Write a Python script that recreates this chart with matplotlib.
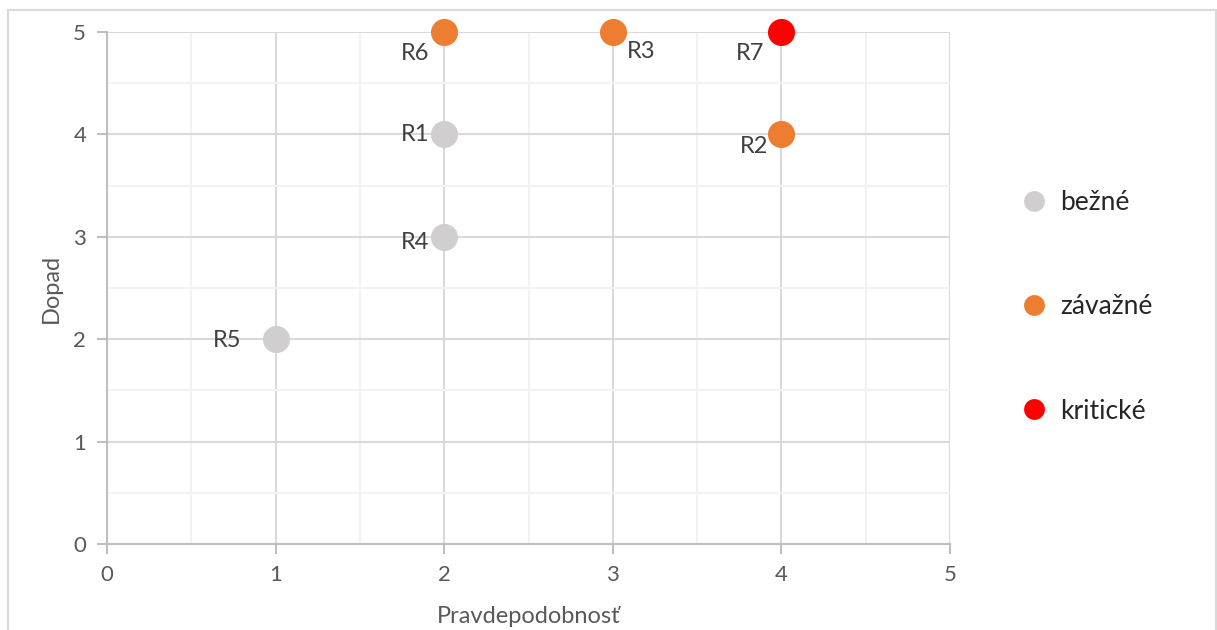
import matplotlib
matplotlib.use("Agg")
import matplotlib.pyplot as plt
from matplotlib.lines import Line2D
from matplotlib.patches import Rectangle

plt.rcParams['font.family'] = ['Lato', 'DejaVu Sans']

# Risk register: probability (x) vs. impact (y)
labels = ["R1", "R2", "R3", "R4", "R5", "R6", "R7"]
probability = [2, 4, 3, 2, 1, 2, 4]
impact = [4, 4, 5, 3, 2, 5, 5]
severity = ["bežné", "závažné", "závažné", "bežné", "bežné", "závažné", "kritické"]

categories = ["bežné", "závažné", "kritické"]
colors = {"bežné": "#d0cece", "závažné": "#ed7d31", "kritické": "#ff0000"}

# label offsets in pixels (dx, dy) and horizontal alignment
label_pos = {
    "R1": (-15, 0, "right"),
    "R2": (-13, -12, "right"),
    "R3": (14, -20, "left"),
    "R4": (-15, -6, "right"),
    "R5": (-34, -1, "right"),
    "R6": (-15, -22, "right"),
    "R7": (-17, -22, "right"),
}

W, H = 1217, 630
fig = plt.figure(figsize=(W / 100, H / 100), dpi=100)
ax = fig.add_axes([107 / W, (H - 544) / H, (950 - 107) / W, (544 - 32) / H])

# outer chart frame
fig.patches.append(Rectangle((8 / W, -0.1), (1216 - 8) / W, 1.1 - 10 / H,
                             transform=fig.transFigure, fill=False,
                             edgecolor="#d9d9d9", linewidth=1.5))

ax.set_xlim(0, 5)
ax.set_ylim(0, 5)
ax.set_xticks(range(6))
ax.set_yticks(range(6))
ax.set_xticks([i + 0.5 for i in range(5)], minor=True)
ax.set_yticks([i + 0.5 for i in range(5)], minor=True)
ax.grid(which="major", color="#d9d9d9", linewidth=1.5)
ax.grid(which="minor", color="#f2f2f2", linewidth=1.5)
ax.set_axisbelow(True)
for side in ["top", "right"]:
    ax.spines[side].set_visible(False)
for side in ["left", "bottom"]:
    ax.spines[side].set_color("#bfbfbf")
    ax.spines[side].set_linewidth(1.5)
ax.tick_params(which="major", direction="out", length=7, width=1.5,
               color="#bfbfbf", labelsize=16, labelcolor="#595959", pad=8)
ax.tick_params(which="minor", length=0)

for cat in categories:
    xs = [p for p, s in zip(probability, severity) if s == cat]
    ys = [i for i, s in zip(impact, severity) if s == cat]
    ax.scatter(xs, ys, s=380, color=colors[cat], zorder=3, clip_on=False,
               linewidths=0)

for lab, x, y in zip(labels, probability, impact):
    dx, dy, ha = label_pos[lab]
    ax.annotate(lab, (x, y), xytext=(dx, dy), textcoords="offset pixels",
                ha=ha, va="center", fontsize=17, color="#404040")

ax.set_xlabel("Pravdepodobnosť", fontsize=17, color="#595959", labelpad=15)
ax.set_ylabel("Dopad", fontsize=17, color="#595959", labelpad=8)

handles = [Line2D([], [], marker="o", linestyle="none", markersize=15,
                  markerfacecolor=colors[c], markeredgewidth=0)
           for c in categories]
leg = fig.legend(handles, categories, loc="center left",
                 bbox_to_anchor=(997 / W, (H - 307) / H), frameon=False,
                 fontsize=19, labelspacing=3.0, handletextpad=0.5,
                 handlelength=1.0)
for t in leg.get_texts():
    t.set_color("#262626")

fig.savefig("out.png", dpi=100)
